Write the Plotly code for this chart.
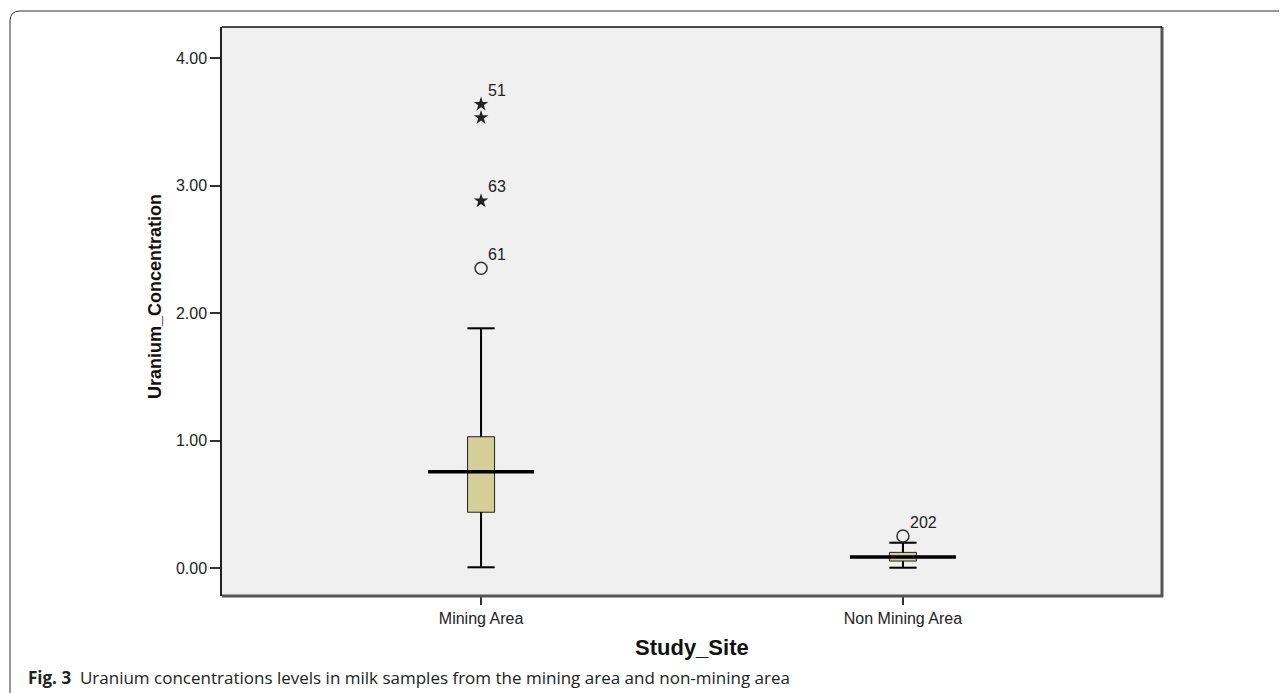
import plotly.graph_objects as go

# ---- data ----
categories = ["Mining Area", "Non Mining Area"]
q1_vals = [0.44, 0.057]
median_vals = [0.758, 0.089]
q3_vals = [1.032, 0.125]
lower_whisker = [0.008, 0.005]
upper_whisker = [1.882, 0.201]

# outliers: (category index, value, label, kind)
outlier_cat = [0, 0, 0, 0, 1]
outlier_vals = [3.639, 3.534, 2.881, 2.353, 0.253]
outlier_labels = ["51", "", "63", "61", "202"]
outlier_kind = ["extreme", "extreme", "extreme", "mild", "mild"]

y_tickvals = [0, 1, 2, 3, 4]
y_ticktext = ["0.00", "1.00", "2.00", "3.00", "4.00"]

# ---- geometry helpers (pixel layout; page body adds an 8px margin) ----
OFF = 8
W, H = 1287 - OFF, 693 - OFF
L, R, T, B = 222 - OFF, 1162 - OFF, 27 - OFF, 596 - OFF
def px(x):
    return (x - OFF - L) / (R - L)
def py(y):
    return (B - (y - OFF)) / (B - T)

BOX_W = 0.064
MED_HALF = 0.1256
FILL = "#d4cf98"

fig = go.Figure()

for i, c in enumerate(categories):
    fig.add_trace(go.Box(
        x=[i], q1=[q1_vals[i]], median=[median_vals[i]], q3=[q3_vals[i]],
        lowerfence=[lower_whisker[i]], upperfence=[upper_whisker[i]],
        width=BOX_W, whiskerwidth=1, fillcolor=FILL,
        line=dict(color="#222222", width=1), boxpoints=False,
        showlegend=False, hoverinfo="skip",
    ))
    # thicker whisker stems and caps
    for a, b in [(q3_vals[i], upper_whisker[i]), (lower_whisker[i], q1_vals[i])]:
        fig.add_trace(go.Scatter(x=[i, i], y=[a, b], mode="lines",
                                 line=dict(color="black", width=2),
                                 showlegend=False, hoverinfo="skip"))
    for v in [upper_whisker[i], lower_whisker[i]]:
        fig.add_trace(go.Scatter(x=[i - BOX_W / 2, i + BOX_W / 2], y=[v, v], mode="lines",
                                 line=dict(color="black", width=2),
                                 showlegend=False, hoverinfo="skip"))
    # wide median line
    fig.add_trace(go.Scatter(x=[i - MED_HALF, i + MED_HALF], y=[median_vals[i]] * 2,
                             mode="lines", line=dict(color="black", width=3.5),
                             showlegend=False, hoverinfo="skip"))

# outliers
ext_x = [outlier_cat[k] for k in range(len(outlier_vals)) if outlier_kind[k] == "extreme"]
ext_y = [outlier_vals[k] for k in range(len(outlier_vals)) if outlier_kind[k] == "extreme"]
mild_x = [outlier_cat[k] for k in range(len(outlier_vals)) if outlier_kind[k] == "mild"]
mild_y = [outlier_vals[k] for k in range(len(outlier_vals)) if outlier_kind[k] == "mild"]
fig.add_trace(go.Scatter(x=ext_x, y=ext_y, mode="markers",
                         marker=dict(symbol="star", size=11, color="#222222",
                                     line=dict(width=0)),
                         showlegend=False, hoverinfo="skip"))
fig.add_trace(go.Scatter(x=mild_x, y=mild_y, mode="markers",
                         marker=dict(symbol="circle-open", size=12, color="#333333",
                                     line=dict(width=1.5, color="#333333")),
                         showlegend=False, hoverinfo="skip"))

annotations = []
for k in range(len(outlier_vals)):
    if outlier_labels[k]:
        annotations.append(dict(x=outlier_cat[k], y=outlier_vals[k], xref="x", yref="y",
                                text=outlier_labels[k], showarrow=False,
                                xanchor="left", yanchor="middle", xshift=5, yshift=14,
                                font=dict(family="Liberation Sans, Arial", size=16, color="#222222")))

# axis titles
annotations.append(dict(x=px(155), y=py(297), xref="paper", yref="paper",
                        text="<b>Uranium_Concentration</b>", textangle=-90, showarrow=False,
                        xanchor="center", yanchor="middle",
                        font=dict(family="Liberation Sans, Arial", size=18, color="#111111")))
annotations.append(dict(x=px(692), y=py(647), xref="paper", yref="paper",
                        text="<b>Study_Site</b>", showarrow=False,
                        xanchor="center", yanchor="middle",
                        font=dict(family="Liberation Sans, Arial", size=22, color="#111111")))
# caption
annotations.append(dict(x=px(26), y=py(677), xref="paper", yref="paper",
                        text="<b>Fig. 3</b>  Uranium concentrations levels in milk samples from the mining area and non-mining area",
                        showarrow=False, xanchor="left", yanchor="middle",
                        font=dict(family="Open Sans", size=17, color="#222222")))

shapes = [
    # outer rounded frame (left and top edges)
    dict(type="path", xref="paper", yref="paper",
         path=f"M {px(10)},{py(700)} L {px(10)},{py(21)} Q {px(10)},{py(11)} {px(20)},{py(11)} L {px(1300)},{py(11)}",
         line=dict(color="#333333", width=1)),
    # plot frame: right and bottom shadowed edges
    dict(type="line", xref="paper", yref="paper", x0=1, x1=1, y0=py(597), y1=1,
         line=dict(color="#555555", width=3)),
    dict(type="line", xref="paper", yref="paper", x0=0, x1=px(1163), y0=0, y1=0,
         line=dict(color="#555555", width=3)),
    dict(type="line", xref="paper", yref="paper", x0=0, x1=1, y0=1, y1=1,
         line=dict(color="#111111", width=1.5)),
]

fig.update_layout(
    width=W, height=H,
    margin=dict(l=L, r=W - R, t=T, b=H - B),
    paper_bgcolor="white", plot_bgcolor="#f0f0f0",
    showlegend=False,
    annotations=annotations, shapes=shapes,
    xaxis=dict(range=[-0.614, 1.614], tickvals=[0, 1], ticktext=categories,
               showgrid=False, zeroline=False, showline=False,
               ticks="outside", ticklen=8, tickwidth=2, tickcolor="#333333",
               tickfont=dict(family="Liberation Sans, Arial", size=16, color="#222222")),
    yaxis=dict(range=[-0.217, 4.245], tickvals=y_tickvals, ticktext=y_ticktext,
               showgrid=False, zeroline=False, showline=True, linecolor="#222222", linewidth=1.5,
               ticks="outside", ticklen=10, tickwidth=1.5, tickcolor="#333333",
               tickfont=dict(family="Liberation Sans, Arial", size=16, color="#222222")),
)

fig.write_html("out.html")
